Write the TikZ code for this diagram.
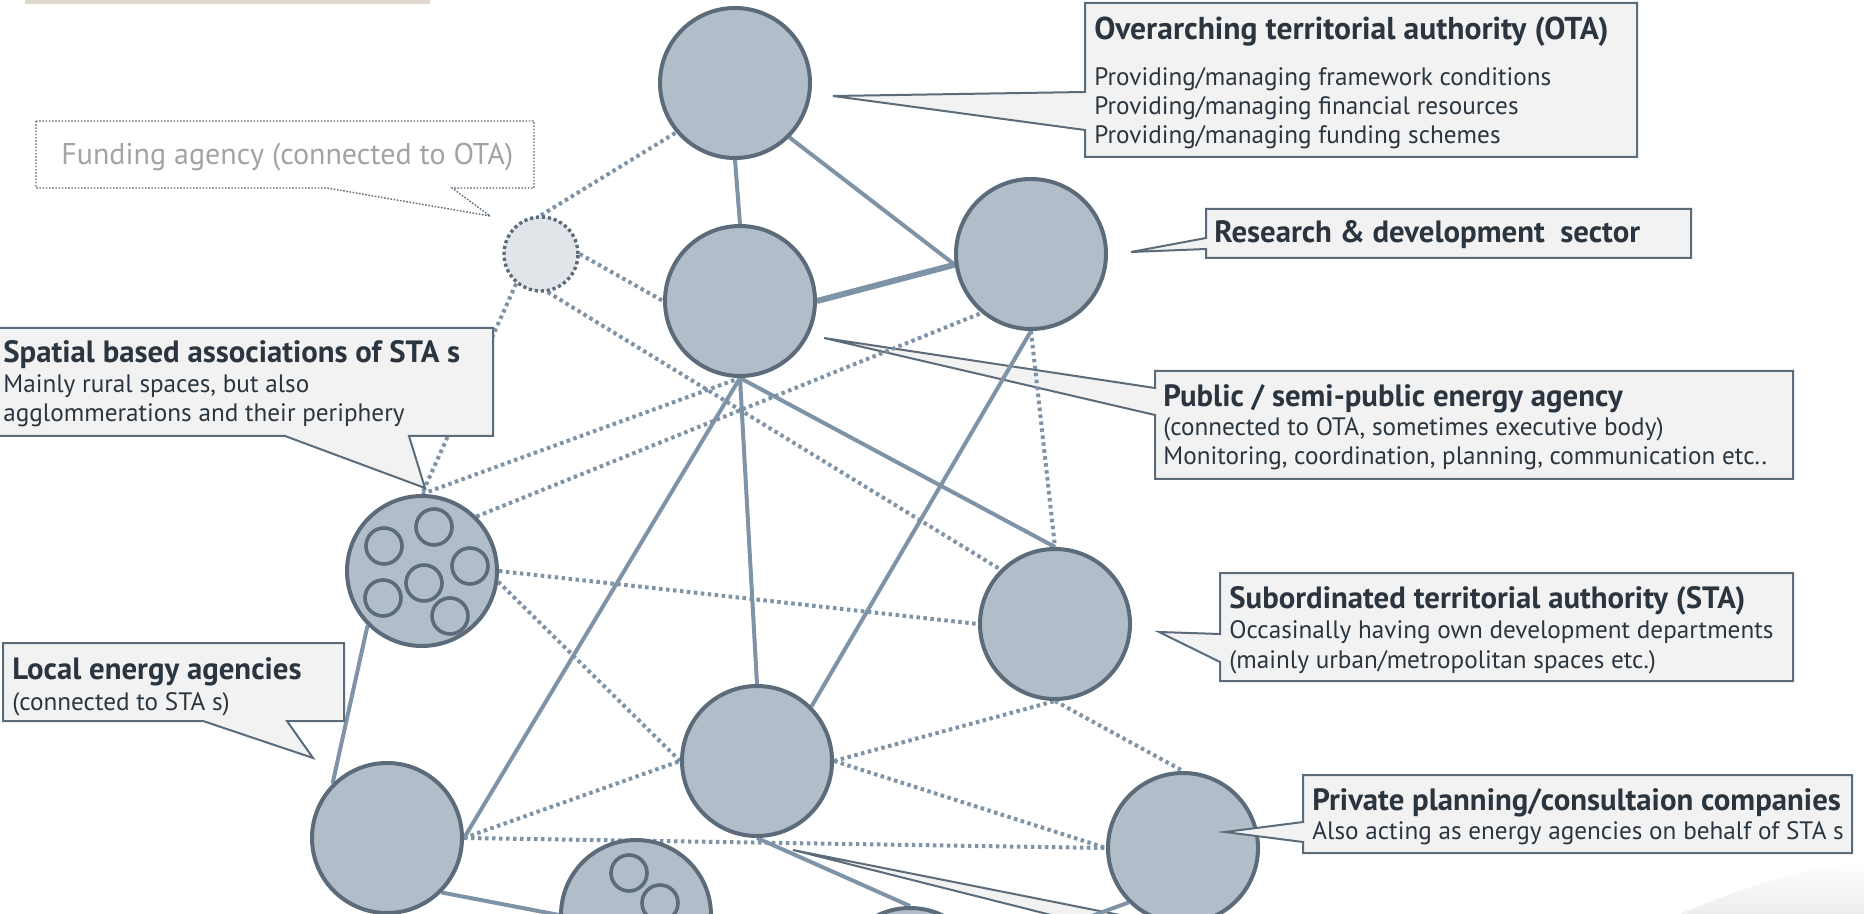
\documentclass[tikz,border=0pt]{standalone}
\usepackage{fontspec}
\setmainfont{PT Sans}
\definecolor{kreis}{HTML}{B1BDC9}
\definecolor{rand}{HTML}{5B6B79}
\definecolor{linie}{HTML}{7F93A6}
\definecolor{kasten}{HTML}{F2F2F2}
\definecolor{schrift}{HTML}{2A353F}
\definecolor{balken}{HTML}{DDD8CB}
\definecolor{hell}{HTML}{E1E5E9}
\pgfdeclarelayer{background}
\pgfsetlayers{background,main}
\begin{document}
\begin{tikzpicture}[x=0.5pt, y=-0.5pt,
	akteur/.style={circle, draw=rand, fill=kreis, line width=2pt, minimum size=75pt, inner sep=0pt},
	teil/.style={circle, draw=rand, fill=kreis, line width=1.8pt, minimum size=18pt, inner sep=0pt},
	fest/.style={draw=linie, line width=2pt},
	lose/.style={draw=linie, line width=2pt, dash pattern=on 1.75pt off 1.75pt},
	blase/.style={draw=rand, fill=kasten, line width=1pt},
	titel/.style={anchor=base west, inner sep=0pt, text=schrift, font=\fontsize{15.4}{18}\selectfont\bfseries},
	zeile/.style={anchor=base west, inner sep=0pt, text=schrift, font=\fontsize{12.6}{15}\selectfont}]
	\useasboundingbox (0,0) rectangle (1864,914);
	\clip (0,0) rectangle (1864,914);
	% Balken oben und Schatten
	\fill[balken] (25,0) rectangle (430,4);
	\shade[top color=white, bottom color=black!7] (1680,914) .. controls (1745,886) and (1805,868) .. (1864,860) -- (1864,914) -- cycle;

	% Kreise
	\node[akteur] (ota) at (735,83) {};
	\node[akteur] (agency) at (740,301) {};
	\node[akteur] (rnd) at (1031,254) {};
	\node[akteur] (assoc) at (422,571) {};
	\node[akteur] (sta) at (1055,624) {};
	\node[akteur] (mid) at (757,761) {};
	\node[akteur] (lea) at (387,838) {};
	\node[akteur] (priv) at (1183,848) {};
	\node[akteur] (grp) at (636,915) {};
	\node[akteur] (low) at (910,983) {};
	\node[circle, draw=rand, fill=hell, line width=1.7pt, dash pattern=on 1.6pt off 1.4pt,
		minimum size=37pt, inner sep=0pt] (funding) at (541,254) {};
	% kleine Kreise in den Verbaenden
	\foreach \x/\y [count=\i] in {384/546, 434/527, 470/566, 424/583, 383/598, 450/616}
		\node[teil] (assoc\i) at (\x,\y) {};
	\foreach \x/\y [count=\i] in {629/873, 660/903, 597/935}
		\node[teil] (grp\i) at (\x,\y) {};

	\begin{pgfonlayer}{background}
		% Sprechblasen unter den Linien
		\filldraw[blase] (1155,371) -- (1793,371) -- (1793,479) -- (1155,479) -- (1155,415)
			-- (824,338) -- (1155,388) -- cycle;
		\filldraw[blase] (793,850) -- (1346,960) -- (1230,960) -- cycle;
		% feste Verbindungen
		\foreach \a/\b in {ota.south/agency.north, ota.-45/rnd.188, agency.south/sta.north,
			agency.south/mid.north, agency.south/lea.east, rnd.south/mid.45, assoc.225/lea.135,
			lea.-45/grp.west, mid.south/low.north, priv.225/low}
			\draw[fest] (\a) -- (\b);
		\draw[fest, line width=3pt] (agency.east) -- (rnd.188);
		% gepunktete Verbindungen
		\foreach \a/\b in {funding.north/ota.220, funding.east/agency.west, funding.-80/sta.135,
			funding.230/assoc.north, assoc.north/agency.south, assoc.45/rnd.230,
			assoc.east/sta.west, assoc.-8/mid.west, rnd.south/sta.north, mid.east/sta.south,
			mid.east/priv.west, sta.south/priv.north, lea.east/mid.west, lea.east/priv.west}
			\draw[lose] (\a) -- (\b);
	\end{pgfonlayer}

	% Sprechblasen
	\filldraw[draw=rand, fill=white, line width=0.7pt, dash pattern=on 0.8pt off 0.8pt]
		(36,121) -- (534,121) -- (534,188) -- (452,188) -- (490,216) -- (327,188) -- (36,188) -- cycle;
	\node[anchor=base west, inner sep=0pt, text=black!36, font=\fontsize{15}{18}\selectfont]
		(fundingT) at (61,165) {Funding agency (connected to OTA)};

	\filldraw[blase] (1085,3) -- (1637,3) -- (1637,157) -- (1085,157) -- (1085,130)
		-- (833,96) -- (1085,92) -- cycle;
	\node[titel, font=\fontsize{15.8}{18}\selectfont\bfseries] (otaT) at (1094,40) {Overarching territorial authority (OTA)};
	\node[zeile] (otaA) at (1094,86) {Providing/managing framework conditions};
	\node[zeile] (otaB) at (1094,115) {Providing/managing financial resources};
	\node[zeile] (otaC) at (1094,144) {Providing/managing funding schemes};

	\filldraw[blase] (1206,209) -- (1691,209) -- (1691,258) -- (1206,258) -- (1206,249)
		-- (1131,252) -- (1206,238) -- cycle;
	\node[titel] (rndT) at (1214,243) {Research \& development~ sector};

	\node[titel] (agencyT) at (1163,407) {Public / semi-public energy agency};
	\node[zeile] (agencyA) at (1163,436) {(connected to OTA, sometimes executive body)};
	\node[zeile] (agencyB) at (1163,465) {Monitoring, coordination, planning, communication etc..};

	\filldraw[blase] (1220,573) -- (1793,573) -- (1793,681) -- (1220,681) -- (1220,662)
		-- (1159,632) -- (1220,634) -- cycle;
	\node[titel] (staT) at (1229,609) {Subordinated territorial authority (STA)};
	\node[zeile] (staA) at (1229,639) {Occasinally having own development departments};
	\node[zeile] (staB) at (1229,668) {(mainly urban/metropolitan spaces etc.)};

	\filldraw[blase] (1303,775) -- (1852,775) -- (1852,853) -- (1303,853) -- (1303,842)
		-- (1225,832) -- (1303,822) -- cycle;
	\node[titel] (privT) at (1312,810) {Private planning/consultaion companies};
	\node[zeile] (privA) at (1312,839) {Also acting as energy agencies on behalf of STA s};

	\filldraw[blase] (-3,328) -- (493,328) -- (493,436) -- (409,436) -- (425,488)
		-- (285,436) -- (-3,436) -- cycle;
	\node[titel] (assocT) at (3,363) {Spatial based associations of STA s};
	\node[zeile] (assocA) at (3,393) {Mainly rural spaces, but also};
	\node[zeile] (assocB) at (3,422) {agglommerations and their periphery};

	\filldraw[blase] (3,643) -- (344,643) -- (344,721) -- (287,721) -- (313,758)
		-- (203,721) -- (3,721) -- cycle;
	\node[titel] (leaT) at (12,679) {Local energy agencies};
	\node[zeile] (leaA) at (12,710) {(connected to STA s)};
\end{tikzpicture}
\end{document}
